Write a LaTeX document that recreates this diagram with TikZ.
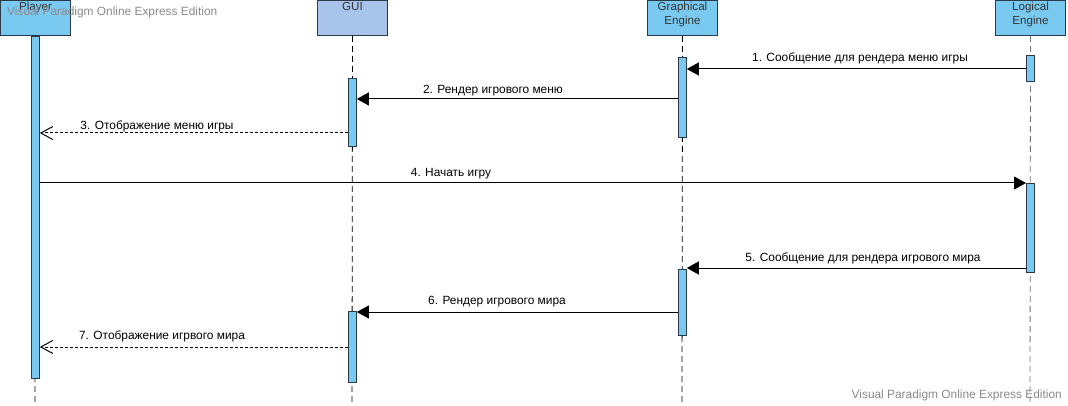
\documentclass[tikz,border=0pt]{standalone}
\usepackage{fontspec}
\setmainfont{Liberation Sans}
\usetikzlibrary{arrows.meta,positioning}
\definecolor{barblue}{HTML}{79C9F1}
\definecolor{guiblue}{HTML}{A9C4EB}
\definecolor{edge}{HTML}{2B3A48}
\definecolor{wm}{HTML}{8A8A8A}
\begin{document}
\begin{tikzpicture}[x=1pt,y=-1pt,
  head/.style={draw=edge,line width=1pt,fill=barblue,minimum width=70pt,minimum height=35pt,anchor=north west,inner sep=0pt},
  headtext/.style={font=\fontsize{11.6}{14}\selectfont,text=black!80,align=center,anchor=north,inner sep=0pt},
  actbar/.style={draw=edge,line width=0.8pt,fill=barblue,minimum width=8pt,anchor=north west,inner sep=0pt},
  life/.style={draw=black,line width=0.8pt,dash pattern=on 6pt off 4pt},
  sync/.style={draw=black,line width=1pt,-{Triangle[length=12pt,width=13pt]}},
  reply/.style={draw=black,line width=1pt,dash pattern=on 3pt off 2pt,-{Straight Barb[length=12pt,width=13pt,line width=1pt]}},
  lbl/.style={font=\fontsize{11.9}{13}\selectfont,anchor=south,inner sep=0pt},
  wmark/.style={font=\fontsize{11.9}{13}\selectfont,text=wm,inner sep=0pt}]
\useasboundingbox (0,0) rectangle (1068,406);
% heads
\node[head] (player) at (0,0) {};
\node[head,fill=guiblue] (gui) at (317,0) {};
\node[head] (ge) at (647,0) {};
\node[head] (le) at (995,0) {};
\node[headtext] (tplayer) at ([yshift=-2pt]player.north) {Player};
\node[headtext] (tgui) at ([yshift=-2pt]gui.north) {GUI};
\node[headtext] (tge) at ([yshift=-2pt]ge.north) {Graphical\\Engine};
\node[headtext] (tle) at ([yshift=-2pt]le.north) {Logical\\Engine};
% lifeline ends
\coordinate (endp) at (35,406);
\coordinate (endg) at (352,406);
\coordinate (ende) at (682,406);
\coordinate (endl) at (1030,406);
\draw[life] (player.south) -- (endp);
\draw[life] (gui.south) -- (endg);
\draw[life] (ge.south) -- (ende);
\draw[life,draw=black!55] (le.south) -- (endl);
% activation bars
\node[actbar,minimum height=342pt] (pb) at (31,36) {};
\node[actbar,minimum height=26pt] (lb1) at (1026,55) {};
\node[actbar,minimum height=80pt] (gb1) at (678,57) {};
\node[actbar,minimum height=68pt] (ub1) at (348,78) {};
\node[actbar,minimum height=89pt] (lb2) at (1026,183) {};
\node[actbar,minimum height=66pt] (gb2) at (678,269) {};
\node[actbar,minimum height=71pt] (ub2) at (348,311) {};
% message rows
\coordinate (y1) at (0,69);
\coordinate (y2) at (0,99);
\coordinate (y3) at (0,133);
\coordinate (y4) at (0,183);
\coordinate (y5) at (0,268);
\coordinate (y6) at (0,312);
\coordinate (y7) at (0,347);
% messages
\draw[sync] (lb1.west |- y1) -- (gb1.east |- y1);
\draw[sync] (gb1.west |- y2) -- (ub1.east |- y2);
\draw[reply] (ub1.west |- y3) -- (pb.east |- y3);
\draw[sync] (pb.east |- y4) -- (lb2.west |- y4);
\draw[sync] (lb2.west |- y5) -- (gb2.east |- y5);
\draw[sync] (gb2.west |- y6) -- (ub2.east |- y6);
\draw[reply] (ub2.west |- y7) -- (pb.east |- y7);
% labels
\node[lbl] (l1) at (860,64) {1. Сообщение для рендера меню игры};
\node[lbl] (l2) at (493,96) {2. Рендер игрового меню};
\node[lbl] (l3) at (157,132) {3. Отображение меню игры};
\node[lbl] (l4) at (451,179) {4. Начать игру};
\node[lbl] (l5) at (863,264) {5. Сообщение для рендера игрового мира};
\node[lbl] (l6) at (497,307) {6. Рендер игрового мира};
\node[lbl] (l7) at (162,342) {7. Отображение игрвого мира};
% watermarks
\node[wmark,anchor=west] (wm1) at (7,12) {Visual Paradigm Online Express Edition};
\node[wmark,anchor=east] (wm2) at (1062,395) {Visual Paradigm Online Express Edition};
\end{tikzpicture}
\end{document}
